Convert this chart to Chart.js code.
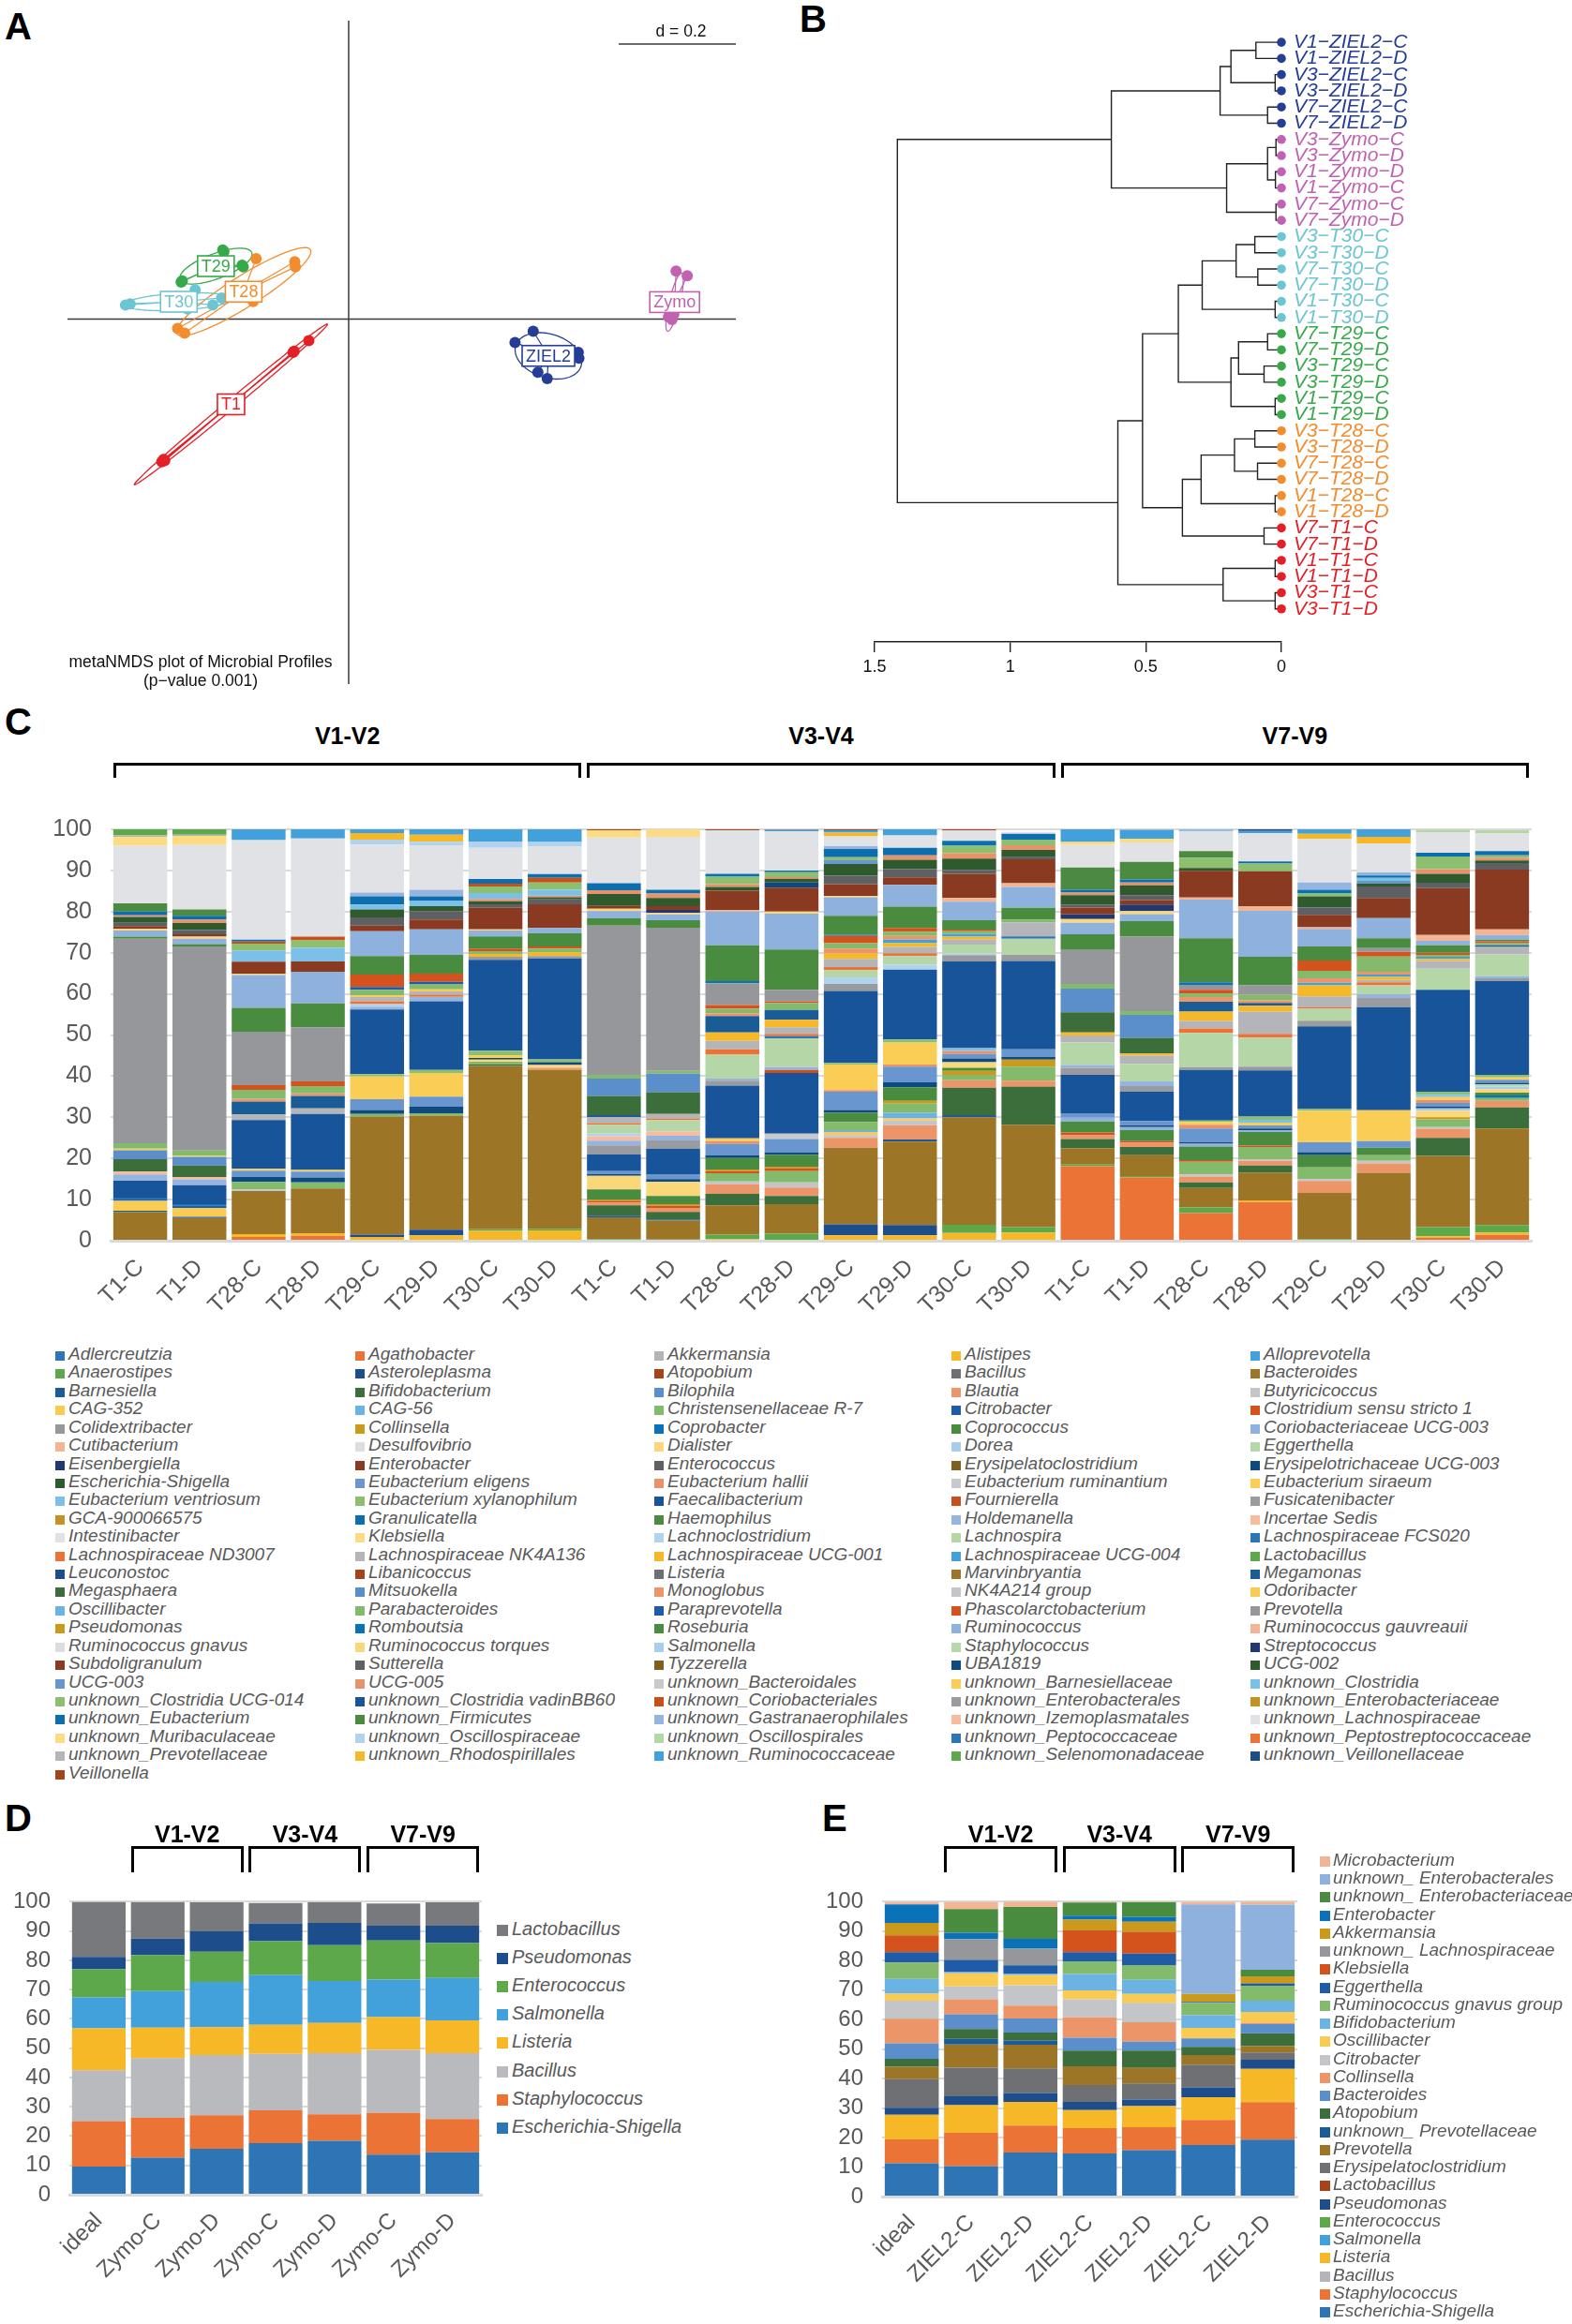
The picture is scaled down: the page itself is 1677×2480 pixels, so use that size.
<!DOCTYPE html>
<html>
<head>
<meta charset="utf-8">
<script src="https://cdn.jsdelivr.net/npm/chart.js@4.4.1/dist/chart.umd.min.js"></script>
<style>
  body { margin: 0; background: #fff; }
  #page { position: relative; width: 1677px; height: 2480px; overflow: hidden; background: #fff;
          font-family: 'Liberation Sans', Arial, sans-serif; }
  canvas { position: absolute; }
</style>
</head>
<body>
<div id="page"></div>
<script>
// ---------- Panel A: metaNMDS points ----------
const nmdsT1 = [{x:-0.314,y:-0.242},{x:-0.319,y:-0.244},{x:-0.316,y:-0.240},{x:-0.095,y:-0.057},{x:-0.093,y:-0.055},{x:-0.068,y:-0.037}];
const nmdsT28 = [{x:-0.158,y:0.103},{x:-0.092,y:0.098},{x:-0.091,y:0.089},{x:-0.163,y:0.030},{x:-0.292,y:-0.016},{x:-0.280,y:-0.024}];
const nmdsT29 = [{x:-0.215,y:0.118},{x:-0.213,y:0.115},{x:-0.180,y:0.089},{x:-0.182,y:0.092},{x:-0.286,y:0.063},{x:-0.284,y:0.065}];
const nmdsT30 = [{x:-0.373,y:0.026},{x:-0.381,y:0.024},{x:-0.275,y:0.017},{x:-0.262,y:0.050},{x:-0.232,y:0.024},{x:-0.217,y:0.036}];
const nmdsZIEL2 = [{x:0.315,y:-0.021},{x:0.284,y:-0.040},{x:0.392,y:-0.057},{x:0.393,y:-0.067},{x:0.323,y:-0.091},{x:0.339,y:-0.102}];
const nmdsZymo = [{x:0.559,y:0.082},{x:0.578,y:0.074},{x:0.549,y:0.006},{x:0.555,y:0.008},{x:0.552,y:-0.001},{x:0.546,y:0.004}];
const nmdsGroups = ['T1','T28','T29','T30','ZIEL2','Zymo'];

// ---------- Panel B: dendrogram ----------
const bLeaves = ['V1−ZIEL2−C','V1−ZIEL2−D','V3−ZIEL2−C','V3−ZIEL2−D','V7−ZIEL2−C','V7−ZIEL2−D',
  'V3−Zymo−C','V3−Zymo−D','V1−Zymo−D','V1−Zymo−C','V7−Zymo−C','V7−Zymo−D',
  'V3−T30−C','V3−T30−D','V7−T30−C','V7−T30−D','V1−T30−C','V1−T30−D',
  'V7−T29−C','V7−T29−D','V3−T29−C','V3−T29−D','V1−T29−C','V1−T29−D',
  'V3−T28−C','V3−T28−D','V7−T28−C','V7−T28−D','V1−T28−C','V1−T28−D',
  'V7−T1−C','V7−T1−D','V1−T1−C','V1−T1−D','V3−T1−C','V3−T1−D'];
// merges like hclust: negative = leaf (1-based), positive = earlier merge; third value = height
const bMerges = [
  [-1,-2,0.094],[-3,-4,0.023],[1,2,0.186],[-5,-6,0.051],[3,4,0.226],
  [-7,-8,0.020],[-9,-10,0.022],[6,7,0.051],[-11,-12,0.020],[8,9,0.202],[5,10,0.627],
  [-13,-14,0.098],[-15,-16,0.087],[12,13,0.167],[-17,-18,0.023],[14,15,0.292],
  [-19,-20,0.051],[-21,-22,0.064],[17,18,0.158],[-23,-24,0.023],[19,20,0.186],[16,21,0.380],
  [-25,-26,0.098],[-27,-28,0.088],[23,24,0.173],[-29,-30,0.023],[25,26,0.296],
  [-31,-32,0.064],[27,28,0.365],[22,29,0.512],
  [-33,-34,0.023],[-35,-36,0.023],[31,32,0.215],[30,33,0.603],[11,34,1.416]
];
const bAxisTicks = [0, 0.5, 1, 1.5];

// ---------- Panel C: genus composition ----------
const cLabels = ['T1-C','T1-D','T28-C','T28-D','T29-C','T29-D','T30-C','T30-D',
                 'T1-C','T1-D','T28-C','T28-D','T29-C','T29-D','T30-C','T30-D',
                 'T1-C','T1-D','T28-C','T28-D','T29-C','T29-D','T30-C','T30-D'];
const cRegions = ['V1-V2','V3-V4','V7-V9'];
const cTaxa = ['Adlercreutzia','Agathobacter','Akkermansia','Alistipes','Alloprevotella',
 'Anaerostipes','Asteroleplasma','Atopobium','Bacillus','Bacteroides',
 'Barnesiella','Bifidobacterium','Bilophila','Blautia','Butyricicoccus',
 'CAG-352','CAG-56','Christensenellaceae R-7','Citrobacter','Clostridium sensu stricto 1',
 'Colidextribacter','Collinsella','Coprobacter','Coprococcus','Coriobacteriaceae UCG-003',
 'Cutibacterium','Desulfovibrio','Dialister','Dorea','Eggerthella',
 'Eisenbergiella','Enterobacter','Enterococcus','Erysipelatoclostridium','Erysipelotrichaceae UCG-003',
 'Escherichia-Shigella','Eubacterium eligens','Eubacterium hallii','Eubacterium ruminantium','Eubacterium siraeum',
 'Eubacterium ventriosum','Eubacterium xylanophilum','Faecalibacterium','Fournierella','Fusicatenibacter',
 'GCA-900066575','Granulicatella','Haemophilus','Holdemanella','Incertae Sedis',
 'Intestinibacter','Klebsiella','Lachnoclostridium','Lachnospira','Lachnospiraceae FCS020',
 'Lachnospiraceae ND3007','Lachnospiraceae NK4A136','Lachnospiraceae UCG-001','Lachnospiraceae UCG-004','Lactobacillus',
 'Leuconostoc','Libanicoccus','Listeria','Marvinbryantia','Megamonas',
 'Megasphaera','Mitsuokella','Monoglobus','NK4A214 group','Odoribacter',
 'Oscillibacter','Parabacteroides','Paraprevotella','Phascolarctobacterium','Prevotella',
 'Pseudomonas','Romboutsia','Roseburia','Ruminococcus','Ruminococcus gauvreauii',
 'Ruminococcus gnavus','Ruminococcus torques','Salmonella','Staphylococcus','Streptococcus',
 'Subdoligranulum','Sutterella','Tyzzerella','UBA1819','UCG-002',
 'UCG-003','UCG-005','unknown_Bacteroidales','unknown_Barnesiellaceae','unknown_Clostridia',
 'unknown_Clostridia UCG-014','unknown_Clostridia vadinBB60','unknown_Coriobacteriales','unknown_Enterobacterales','unknown_Enterobacteriaceae',
 'unknown_Eubacterium','unknown_Firmicutes','unknown_Gastranaerophilales','unknown_Izemoplasmatales','unknown_Lachnospiraceae',
 'unknown_Muribaculaceae','unknown_Oscillospiraceae','unknown_Oscillospirales','unknown_Peptococcaceae','unknown_Peptostreptococcaceae',
 'unknown_Prevotellaceae','unknown_Rhodospirillales','unknown_Ruminococcaceae','unknown_Selenomonadaceae','unknown_Veillonellaceae',
 'Veillonella'];

// one list per bar: [genus, % abundance]
const barV12_T1C = [['Bacteroides',7.0],['Barnesiella',0.3],['CAG-352',2.4],['Citrobacter',0.5],['Coprobacter',0.3],['Faecalibacterium',4.1],['Holdemanella',1.5],['Incertae Sedis',0.7],['Megasphaera',3.0],['Mitsuokella',2.2],['Odoribacter',0.4],['Parabacteroides',1.3],['Prevotella',49.7],['Roseburia',0.5],['Ruminococcus',1.5],['Ruminococcus torques',0.4],['Subdoligranulum',0.7],['Sutterella',0.8],['UCG-002',1.4],['UCG-005',0.4],['unknown_Eubacterium',0.9],['unknown_Firmicutes',2.0],['unknown_Lachnospiraceae',14.0],['unknown_Muribaculaceae',2.2],['unknown_Prevotellaceae',0.3],['unknown_Selenomonadaceae',1.5]];
const barV12_T1D = [['Bacteroides',5.5],['Barnesiella',0.3],['CAG-352',2.2],['Citrobacter',0.5],['Coprobacter',0.4],['Faecalibacterium',4.6],['Holdemanella',1.4],['Incertae Sedis',0.6],['Megasphaera',2.8],['Mitsuokella',2.1],['Odoribacter',0.3],['Parabacteroides',1.2],['Prevotella',49.6],['Roseburia',0.6],['Ruminococcus',1.3],['Ruminococcus torques',0.5],['Subdoligranulum',0.6],['Sutterella',1.0],['UCG-002',1.7],['UCG-005',0.9],['unknown_Eubacterium',0.9],['unknown_Firmicutes',1.5],['unknown_Lachnospiraceae',15.7],['unknown_Muribaculaceae',2.2],['unknown_Prevotellaceae',0.3],['unknown_Selenomonadaceae',1.3]];
const barV12_T28C = [['Agathobacter',0.9],['Alistipes',0.7],['Bacteroides',10.5],['Butyricicoccus',0.4],['Christensenellaceae R-7',1.8],['Erysipelotrichaceae UCG-003',1.2],['Eubacterium eligens',1.5],['Eubacterium siraeum',0.5],['Faecalibacterium',11.8],['Lachnospiraceae NK4A136',1.4],['Megamonas',3.1],['Monoglobus',0.7],['Parabacteroides',2.2],['Phascolarctobacterium',1.1],['Prevotella',13.0],['Roseburia',5.8],['Ruminococcus',8.0],['Ruminococcus torques',0.3],['Subdoligranulum',2.9],['unknown_Clostridia',2.7],['unknown_Clostridia UCG-014',1.7],['unknown_Coriobacteriales',0.5],['unknown_Eubacterium',0.5],['unknown_Lachnospiraceae',24.2],['unknown_Ruminococcaceae',2.6]];
const barV12_T28D = [['Agathobacter',1.2],['Alistipes',0.6],['Bacteroides',10.9],['Christensenellaceae R-7',1.5],['Erysipelotrichaceae UCG-003',1.2],['Eubacterium eligens',1.4],['Eubacterium siraeum',0.4],['Faecalibacterium',13.6],['Lachnospiraceae NK4A136',1.4],['Megamonas',3.0],['Monoglobus',0.6],['Parabacteroides',1.8],['Phascolarctobacterium',1.1],['Prevotella',13.2],['Roseburia',5.8],['Ruminococcus',7.7],['Subdoligranulum',2.5],['unknown_Clostridia',3.3],['unknown_Clostridia UCG-014',1.8],['unknown_Coriobacteriales',0.9],['unknown_Lachnospiraceae',23.9],['unknown_Ruminococcaceae',2.2]];
const barV12_T29C = [['Alistipes',0.9],['Asteroleplasma',0.6],['Bacteroides',28.7],['Christensenellaceae R-7',0.6],['Erysipelotrichaceae UCG-003',1.0],['Eubacterium eligens',2.6],['Eubacterium siraeum',5.5],['Eubacterium xylanophilum',0.6],['Faecalibacterium',15.7],['Holdemanella',0.7],['Lachnoclostridium',0.6],['Lachnospiraceae ND3007',0.7],['Lachnospiraceae NK4A136',1.0],['Odoribacter',0.4],['Parabacteroides',1.4],['Paraprevotella',0.7],['Phascolarctobacterium',3.0],['Roseburia',4.5],['Ruminococcus',6.0],['Subdoligranulum',1.4],['Sutterella',2.0],['UCG-002',1.9],['unknown_Clostridia',1.2],['unknown_Eubacterium',2.0],['unknown_Gastranaerophilales',0.9],['unknown_Lachnospiraceae',11.7],['unknown_Oscillospiraceae',1.2],['unknown_Rhodospirillales',1.6],['unknown_Ruminococcaceae',0.9]];
const barV12_T29D = [['Alistipes',1.3],['Asteroleplasma',1.4],['Bacteroides',27.7],['Christensenellaceae R-7',0.6],['Erysipelotrichaceae UCG-003',1.6],['Eubacterium eligens',2.4],['Eubacterium siraeum',5.8],['Eubacterium xylanophilum',0.7],['Faecalibacterium',16.7],['Holdemanella',1.1],['Lachnospiraceae ND3007',0.5],['Lachnospiraceae NK4A136',0.8],['Odoribacter',0.5],['Parabacteroides',1.2],['Paraprevotella',0.6],['Phascolarctobacterium',2.0],['Roseburia',4.6],['Ruminococcus',6.2],['Subdoligranulum',2.4],['Sutterella',2.0],['UCG-002',1.2],['unknown_Clostridia',1.3],['unknown_Eubacterium',1.1],['unknown_Gastranaerophilales',1.6],['unknown_Lachnospiraceae',10.8],['unknown_Oscillospiraceae',0.9],['unknown_Rhodospirillales',1.7],['unknown_Ruminococcaceae',1.3]];
const barV12_T30C = [['Alistipes',2.4],['Anaerostipes',0.4],['Bacteroides',39.7],['Bifidobacterium',0.4],['Christensenellaceae R-7',0.6],['Dialister',0.5],['Erysipelotrichaceae UCG-003',0.4],['Eubacterium siraeum',0.7],['Eubacterium xylanophilum',1.1],['Faecalibacterium',22.1],['Fusicatenibacter',0.7],['Lachnospiraceae UCG-001',0.7],['Parabacteroides',0.7],['Phascolarctobacterium',0.6],['Roseburia',3.0],['Ruminococcus',1.4],['Ruminococcus torques',0.3],['Subdoligranulum',5.2],['Sutterella',0.9],['UCG-002',0.7],['UCG-005',0.6],['unknown_Clostridia',1.4],['unknown_Clostridia UCG-014',1.6],['unknown_Coriobacteriales',0.7],['unknown_Eubacterium',1.1],['unknown_Lachnospiraceae',7.6],['unknown_Oscillospiraceae',1.4],['unknown_Ruminococcaceae',3.1]];
const barV12_T30D = [['Alistipes',2.5],['Anaerostipes',0.4],['Bacteroides',38.6],['Blautia',0.5],['Dialister',0.7],['Erysipelotrichaceae UCG-003',0.7],['Eubacterium xylanophilum',0.7],['Faecalibacterium',24.5],['Fusicatenibacter',0.6],['Lachnospiraceae UCG-001',0.9],['Parabacteroides',0.9],['Phascolarctobacterium',0.5],['Roseburia',3.3],['Ruminococcus',1.2],['Subdoligranulum',5.8],['Sutterella',1.2],['UCG-002',0.5],['UCG-005',0.4],['unknown_Clostridia',1.4],['unknown_Clostridia UCG-014',1.8],['unknown_Coriobacteriales',1.1],['unknown_Eubacterium',0.9],['unknown_Lachnospiraceae',6.7],['unknown_Oscillospiraceae',1.1],['unknown_Ruminococcaceae',3.1]];
const barV34_T1C = [['Anaerostipes',0.4],['Bacteroides',5.3],['Barnesiella',0.4],['Bifidobacterium',2.5],['Blautia',0.7],['Clostridium sensu stricto 1',0.4],['Collinsella',0.3],['Coprococcus',2.5],['Dialister',3.3],['Erysipelotrichaceae UCG-003',0.4],['Eubacterium eligens',0.7],['Faecalibacterium',4.1],['Fusicatenibacter',2.2],['Holdemanella',1.1],['Incertae Sedis',1.1],['Lachnoclostridium',0.6],['Lachnospira',2.2],['Lachnospiraceae ND3007',0.4],['Lachnospiraceae NK4A136',1.4],['Megamonas',0.5],['Megasphaera',4.7],['Mitsuokella',4.2],['Parabacteroides',0.9],['Prevotella',36.3],['Roseburia',1.8],['Ruminococcus',1.7],['Ruminococcus torques',0.6],['Subdoligranulum',0.7],['UCG-002',2.9],['UCG-005',0.9],['unknown_Eubacterium',1.7],['unknown_Lachnospiraceae',11.1],['unknown_Muribaculaceae',1.8],['Veillonella',0.2]];
const barV34_T1D = [['Anaerostipes',0.3],['Bacteroides',4.6],['Barnesiella',0.3],['Bifidobacterium',1.8],['Blautia',1.0],['Clostridium sensu stricto 1',0.5],['Collinsella',0.4],['Coprococcus',2.0],['Dialister',3.4],['Erysipelotrichaceae UCG-003',0.7],['Eubacterium eligens',1.2],['Faecalibacterium',6.2],['Fusicatenibacter',2.0],['Holdemanella',1.1],['Incertae Sedis',1.1],['Lachnospira',2.7],['Lachnospiraceae ND3007',0.4],['Lachnospiraceae NK4A136',1.1],['Megasphaera',5.3],['Mitsuokella',4.5],['Parabacteroides',0.7],['Prevotella',34.8],['Roseburia',1.8],['Ruminococcus',1.4],['Ruminococcus torques',0.4],['Streptococcus',0.7],['Subdoligranulum',0.9],['UCG-002',2.0],['UCG-005',1.1],['unknown_Eubacterium',0.9],['unknown_Lachnospiraceae',12.9],['unknown_Muribaculaceae',1.8]];
const barV34_T28C = [['Alistipes',0.4],['Anaerostipes',1.1],['Bacteroides',7.1],['Bifidobacterium',2.8],['Blautia',2.3],['Butyricicoccus',0.7],['Christensenellaceae R-7',2.0],['Clostridium sensu stricto 1',0.5],['Collinsella',0.4],['Coprococcus',2.8],['Erysipelotrichaceae UCG-003',0.7],['Eubacterium eligens',2.7],['Eubacterium hallii',0.7],['Eubacterium siraeum',0.7],['Faecalibacterium',12.8],['Fusicatenibacter',1.2],['Holdemanella',0.5],['Lachnospira',5.8],['Lachnospiraceae ND3007',1.3],['Lachnospiraceae NK4A136',2.1],['Lachnospiraceae UCG-001',2.0],['Megamonas',4.0],['Monoglobus',0.7],['Parabacteroides',1.1],['Phascolarctobacterium',0.9],['Prevotella',5.3],['Romboutsia',0.5],['Roseburia',8.7],['Ruminococcus',8.2],['Ruminococcus gauvreauii',0.4],['Subdoligranulum',4.7],['UCG-002',0.9],['UCG-005',0.7],['unknown_Clostridia UCG-014',1.8],['unknown_Eubacterium',0.7],['unknown_Lachnospiraceae',10.6],['Veillonella',0.2]];
const barV34_T28D = [['Anaerostipes',1.7],['Bacteroides',7.2],['Bifidobacterium',2.0],['Blautia',2.0],['Butyricicoccus',1.3],['Christensenellaceae R-7',2.7],['Clostridium sensu stricto 1',0.7],['Collinsella',0.4],['Coprococcus',2.9],['Erysipelotrichaceae UCG-003',0.5],['Eubacterium eligens',3.3],['Eubacterium ruminantium',1.3],['Faecalibacterium',14.8],['Fournierella',0.7],['Holdemanella',0.7],['Lachnospira',7.0],['Lachnospiraceae FCS020',0.5],['Lachnospiraceae ND3007',0.6],['Lachnospiraceae NK4A136',1.6],['Lachnospiraceae UCG-001',1.8],['Megamonas',2.4],['Parabacteroides',1.7],['Phascolarctobacterium',0.4],['Prevotella',2.8],['Roseburia',9.8],['Ruminococcus',8.7],['Ruminococcus torques',0.5],['Subdoligranulum',5.8],['UBA1819',1.3],['UCG-002',0.9],['UCG-005',0.4],['unknown_Clostridia UCG-014',1.2],['unknown_Eubacterium',0.4],['unknown_Lachnospiraceae',9.5],['unknown_Ruminococcaceae',0.4],['Veillonella',0.2]];
const barV34_T29C = [['Alistipes',1.3],['Asteroleplasma',2.7],['Bacteroides',18.6],['Blautia',2.4],['Butyricicoccus',0.7],['CAG-352',0.7],['CAG-56',0.5],['Christensenellaceae R-7',2.0],['Coprococcus',2.2],['Erysipelotrichaceae UCG-003',0.7],['Eubacterium eligens',4.4],['Eubacterium hallii',0.4],['Eubacterium siraeum',6.2],['Eubacterium xylanophilum',0.4],['Faecalibacterium',17.5],['Fusicatenibacter',1.7],['Lachnoclostridium',1.6],['Lachnospira',1.8],['Lachnospiraceae ND3007',0.7],['Lachnospiraceae NK4A136',2.0],['Lachnospiraceae UCG-001',1.3],['Monoglobus',1.2],['Parabacteroides',1.3],['Phascolarctobacterium',1.8],['Romboutsia',0.3],['Roseburia',4.6],['Ruminococcus',4.5],['Ruminococcus torques',0.3],['Subdoligranulum',2.9],['Sutterella',2.0],['UCG-002',2.9],['UCG-003',0.9],['unknown_Clostridia UCG-014',0.7],['unknown_Eubacterium',2.0],['unknown_Gastranaerophilales',0.7],['unknown_Lachnospiraceae',2.4],['unknown_Rhodospirillales',0.9],['unknown_Ruminococcaceae',0.6],['Veillonella',0.2]];
const barV34_T29D = [['Alistipes',1.3],['Asteroleplasma',2.5],['Bacteroides',20.3],['Barnesiella',0.5],['Blautia',3.5],['Butyricicoccus',1.1],['CAG-352',0.5],['CAG-56',1.4],['Christensenellaceae R-7',2.2],['Collinsella',0.7],['Coprococcus',3.3],['Erysipelotrichaceae UCG-003',1.2],['Eubacterium eligens',3.8],['Eubacterium hallii',0.5],['Eubacterium siraeum',5.4],['Eubacterium xylanophilum',0.7],['Faecalibacterium',17.0],['Lachnoclostridium',1.2],['Lachnospira',2.1],['Lachnospiraceae ND3007',0.7],['Lachnospiraceae NK4A136',1.5],['Lachnospiraceae UCG-001',0.9],['Lachnospiraceae UCG-004',0.9],['Monoglobus',0.9],['Parabacteroides',1.0],['Phascolarctobacterium',0.9],['Roseburia',5.2],['Ruminococcus',5.3],['Subdoligranulum',1.8],['Sutterella',2.0],['UCG-002',2.3],['UCG-005',1.1],['unknown_Eubacterium',1.8],['unknown_Lachnospiraceae',3.0],['unknown_Ruminococcaceae',1.5]];
const barV34_T30C = [['Alistipes',1.9],['Anaerostipes',2.0],['Bacteroides',26.1],['Barnesiella',0.5],['Bifidobacterium',6.7],['Blautia',1.8],['Christensenellaceae R-7',1.3],['Collinsella',1.0],['Coprococcus',0.7],['Dialister',1.4],['Erysipelotrichaceae UCG-003',0.9],['Eubacterium eligens',1.1],['Eubacterium hallii',0.7],['Eubacterium ventriosum',0.7],['Faecalibacterium',21.1],['Fusicatenibacter',1.5],['Lachnoclostridium',0.4],['Lachnospira',2.2],['Lachnospiraceae NK4A136',1.2],['Lachnospiraceae UCG-001',0.7],['Lachnospiraceae UCG-004',0.7],['Parabacteroides',0.6],['Phascolarctobacterium',0.4],['Roseburia',2.3],['Ruminococcus',4.5],['Ruminococcus gauvreauii',0.9],['Subdoligranulum',5.9],['Sutterella',0.9],['UCG-002',2.8],['UCG-005',1.3],['unknown_Clostridia UCG-014',1.8],['unknown_Eubacterium',1.2],['unknown_Lachnospiraceae',2.5],['Veillonella',0.3]];
const barV34_T30D = [['Alistipes',2.0],['Anaerostipes',1.3],['Bacteroides',24.9],['Bifidobacterium',9.3],['Blautia',1.4],['Christensenellaceae R-7',3.4],['Collinsella',1.7],['Erysipelotrichaceae UCG-003',0.7],['Eubacterium eligens',1.8],['Faecalibacterium',21.5],['Fusicatenibacter',1.5],['Lachnospira',3.9],['Lachnospiraceae FCS020',0.6],['Lachnospiraceae NK4A136',3.4],['Parabacteroides',0.7],['Roseburia',2.8],['Ruminococcus',5.1],['Ruminococcus gauvreauii',0.9],['Subdoligranulum',5.8],['Sutterella',0.5],['UCG-002',1.8],['UCG-005',1.1],['unknown_Clostridia UCG-014',1.4],['unknown_Eubacterium',1.4],['unknown_Lachnospiraceae',0.5]];
const barV79_T1C = [['Agathobacter',18.1],['Anaerostipes',0.4],['Bacteroides',4.0],['Bifidobacterium',2.2],['Blautia',0.9],['Clostridium sensu stricto 1',0.7],['Coprococcus',2.7],['Coriobacteriaceae UCG-003',0.9],['Eubacterium eligens',1.1],['Faecalibacterium',9.3],['Fusicatenibacter',1.7],['Holdemanella',0.7],['Lachnospira',5.5],['Lachnospiraceae NK4A136',1.7],['Lachnospiraceae UCG-001',0.7],['Megasphaera',4.9],['Mitsuokella',5.8],['Parabacteroides',1.1],['Prevotella',8.3],['Roseburia',3.8],['Ruminococcus',2.8],['Ruminococcus torques',0.9],['Streptococcus',1.2],['Subdoligranulum',1.6],['Sutterella',0.7],['UCG-002',2.3],['UCG-005',0.6],['unknown_Eubacterium',0.7],['unknown_Firmicutes',5.4],['unknown_Lachnospiraceae',5.5],['unknown_Muribaculaceae',0.7],['unknown_Ruminococcaceae',3.1]];
const barV79_T1D = [['Agathobacter',15.4],['Anaerostipes',0.3],['Bacteroides',5.1],['Bifidobacterium',2.0],['Blautia',1.0],['Clostridium sensu stricto 1',0.4],['Coprococcus',2.7],['Coriobacteriaceae UCG-003',0.7],['Erysipelotrichaceae UCG-003',0.5],['Eubacterium eligens',1.0],['Faecalibacterium',7.1],['Fusicatenibacter',1.4],['Holdemanella',1.1],['Lachnospira',4.3],['Lachnospiraceae NK4A136',2.0],['Lachnospiraceae UCG-001',0.5],['Megasphaera',3.8],['Mitsuokella',5.6],['Parabacteroides',0.9],['Prevotella',18.1],['Roseburia',3.8],['Ruminococcus',1.7],['Ruminococcus torques',0.7],['Streptococcus',1.6],['Subdoligranulum',1.1],['Sutterella',1.2],['UCG-002',2.4],['UCG-005',0.7],['unknown_Eubacterium',0.7],['unknown_Firmicutes',4.3],['unknown_Lachnospiraceae',4.7],['unknown_Muribaculaceae',0.9],['unknown_Ruminococcaceae',2.2]];
const barV79_T28C = [['Agathobacter',6.7],['Anaerostipes',1.4],['Bacteroides',4.7],['Bifidobacterium',1.4],['Blautia',1.4],['Butyricicoccus',0.5],['Christensenellaceae R-7',3.1],['Clostridium sensu stricto 1',0.4],['Coprococcus',3.3],['Coriobacteriaceae UCG-003',0.7],['Erysipelotrichaceae UCG-003',0.4],['Eubacterium eligens',3.3],['Eubacterium hallii',0.9],['Eubacterium siraeum',0.7],['Eubacterium xylanophilum',0.3],['Faecalibacterium',12.3],['Fusicatenibacter',0.7],['Lachnospira',8.3],['Lachnospiraceae ND3007',1.1],['Lachnospiraceae NK4A136',1.8],['Lachnospiraceae UCG-001',2.3],['Megamonas',2.4],['Monoglobus',1.1],['Parabacteroides',0.9],['Phascolarctobacterium',0.9],['Prevotella',1.2],['Romboutsia',0.6],['Roseburia',10.7],['Ruminococcus',9.4],['Ruminococcus gauvreauii',0.5],['Subdoligranulum',6.5],['UCG-002',0.7],['unknown_Clostridia UCG-014',2.5],['unknown_Firmicutes',1.6],['unknown_Lachnospiraceae',4.9],['unknown_Ruminococcaceae',0.3]];
const barV79_T28D = [['Agathobacter',9.4],['Alistipes',0.4],['Bacteroides',6.8],['Bifidobacterium',1.7],['Blautia',1.1],['Butyricicoccus',0.4],['Christensenellaceae R-7',3.0],['Clostridium sensu stricto 1',0.3],['Coprococcus',3.3],['Coriobacteriaceae UCG-003',0.4],['Erysipelotrichaceae UCG-003',0.5],['Eubacterium eligens',0.7],['Eubacterium siraeum',0.7],['Eubacterium ventriosum',0.7],['Eubacterium xylanophilum',0.8],['Faecalibacterium',11.2],['Fusicatenibacter',0.9],['Lachnospira',7.1],['Lachnospiraceae ND3007',0.9],['Lachnospiraceae NK4A136',5.4],['Lachnospiraceae UCG-001',1.4],['Megamonas',0.7],['Monoglobus',0.6],['Parabacteroides',1.4],['Prevotella',2.3],['Roseburia',6.9],['Ruminococcus',11.2],['Ruminococcus gauvreauii',1.1],['Subdoligranulum',8.5],['unknown_Clostridia UCG-014',1.9],['unknown_Eubacterium',0.5],['unknown_Lachnospiraceae',6.9],['unknown_Ruminococcaceae',0.5],['unknown_Veillonellaceae',0.4]];
const barV79_T29C = [['Anaerostipes',0.4],['Bacteroides',11.2],['Blautia',2.9],['Butyricicoccus',0.5],['Christensenellaceae R-7',2.8],['Coprococcus',3.0],['Erysipelotrichaceae UCG-003',0.7],['Eubacterium eligens',2.4],['Eubacterium siraeum',7.7],['Eubacterium xylanophilum',0.4],['Faecalibacterium',20.1],['Fusicatenibacter',1.4],['Lachnospira',2.9],['Lachnospiraceae ND3007',0.3],['Lachnospiraceae NK4A136',2.7],['Lachnospiraceae UCG-001',2.7],['Lachnospiraceae UCG-004',0.6],['Monoglobus',1.1],['Parabacteroides',1.8],['Phascolarctobacterium',2.5],['Roseburia',3.4],['Ruminococcus',4.3],['Ruminococcus gauvreauii',0.4],['Subdoligranulum',3.0],['Sutterella',1.8],['UCG-002',2.7],['unknown_Clostridia UCG-014',0.7],['unknown_Eubacterium',0.9],['unknown_Gastranaerophilales',1.8],['unknown_Lachnospiraceae',10.6],['unknown_Rhodospirillales',1.2],['unknown_Ruminococcaceae',1.1]];
const barV79_T29D = [['Bacteroides',16.5],['Blautia',2.3],['Butyricicoccus',0.6],['Christensenellaceae R-7',1.4],['Coprococcus',1.8],['Eubacterium eligens',1.6],['Eubacterium siraeum',7.5],['Faecalibacterium',25.1],['Fusicatenibacter',2.2],['Holdemanella',0.9],['Lachnospira',2.2],['Lachnospiraceae ND3007',0.7],['Lachnospiraceae NK4A136',0.6],['Lachnospiraceae UCG-001',0.7],['Lachnospiraceae UCG-004',0.6],['Monoglobus',0.7],['Parabacteroides',3.7],['Phascolarctobacterium',1.1],['Prevotella',0.9],['Roseburia',2.4],['Ruminococcus',4.9],['Subdoligranulum',4.9],['Sutterella',2.8],['UCG-002',0.7],['UCG-003',0.7],['unknown_Clostridia',0.7],['unknown_Eubacterium',0.6],['unknown_Gastranaerophilales',0.7],['unknown_Lachnospiraceae',7.0],['unknown_Rhodospirillales',1.7],['unknown_Ruminococcaceae',1.8]];
const barV79_T30C = [['Agathobacter',0.7],['Alistipes',0.4],['Anaerostipes',2.2],['Bacteroides',17.3],['Bifidobacterium',4.4],['Blautia',2.2],['Butyricicoccus',0.4],['Christensenellaceae R-7',1.9],['Collinsella',0.5],['Dialister',1.6],['Dorea',0.6],['Erysipelotrichaceae UCG-003',0.4],['Eubacterium eligens',0.9],['Eubacterium hallii',0.7],['Eubacterium siraeum',0.7],['Eubacterium ventriosum',0.6],['Eubacterium xylanophilum',0.7],['Faecalibacterium',24.8],['Lachnospira',5.1],['Lachnospiraceae NK4A136',1.9],['Lachnospiraceae UCG-001',0.5],['Lachnospiraceae UCG-004',0.5],['Parabacteroides',0.5],['Phascolarctobacterium',0.5],['Roseburia',1.8],['Ruminococcus',1.1],['Ruminococcus gauvreauii',1.4],['Subdoligranulum',11.4],['Sutterella',1.3],['UCG-002',2.2],['UCG-005',1.1],['unknown_Clostridia UCG-014',3.1],['unknown_Eubacterium',0.9],['unknown_Lachnospiraceae',4.9],['unknown_Oscillospirales',0.7]];
const barV79_T30D = [['Agathobacter',1.4],['Alistipes',0.6],['Anaerostipes',1.8],['Bacteroides',23.5],['Bifidobacterium',5.1],['Blautia',1.6],['Christensenellaceae R-7',0.7],['Coprobacter',0.6],['Coprococcus',0.7],['Dialister',0.8],['Dorea',0.7],['Eggerthella',0.5],['Erysipelotrichaceae UCG-003',0.4],['Eubacterium eligens',0.7],['Eubacterium siraeum',0.6],['Eubacterium xylanophilum',0.6],['Faecalibacterium',22.8],['Fusicatenibacter',0.7],['Holdemanella',0.5],['Lachnospira',5.3],['Lachnospiraceae NK4A136',1.8],['Megamonas',0.4],['Parabacteroides',0.5],['Phascolarctobacterium',0.5],['Roseburia',0.4],['Ruminococcus',1.1],['Ruminococcus gauvreauii',1.4],['Subdoligranulum',14.5],['Sutterella',1.6],['UCG-002',0.6],['UCG-005',0.7],['unknown_Clostridia UCG-014',0.6],['unknown_Eubacterium',1.0],['unknown_Lachnospiraceae',4.3],['unknown_Oscillospirales',0.8]];
const cBars = [barV12_T1C, barV12_T1D, barV12_T28C, barV12_T28D, barV12_T29C, barV12_T29D, barV12_T30C, barV12_T30D,
               barV34_T1C, barV34_T1D, barV34_T28C, barV34_T28D, barV34_T29C, barV34_T29D, barV34_T30C, barV34_T30D,
               barV79_T1C, barV79_T1D, barV79_T28C, barV79_T28D, barV79_T29C, barV79_T29D, barV79_T30C, barV79_T30D];

// ---------- Panel D: Zymo mock community ----------
const dLabels = ['ideal','Zymo-C','Zymo-D','Zymo-C','Zymo-D','Zymo-C','Zymo-D'];
const dTaxa = ['Escherichia-Shigella','Staphylococcus','Bacillus','Listeria','Salmonella','Enterococcus','Pseudomonas','Lactobacillus'];
const dEscherichia = [9.6, 12.6, 15.7, 17.6, 18.4, 13.7, 14.5];
const dStaphylococcus = [15.5, 13.7, 11.4, 11.2, 9.0, 14.2, 11.3];
const dBacillus = [17.4, 20.3, 20.6, 19.3, 20.9, 21.5, 22.5];
const dListeria = [14.3, 10.4, 9.5, 9.9, 10.3, 11.2, 11.2];
const dSalmonella = [10.5, 12.5, 15.4, 16.9, 14.3, 12.8, 14.5];
const dEnterococcus = [9.7, 12.3, 10.3, 11.6, 12.3, 13.4, 11.9];
const dPseudomonas = [4.2, 5.6, 7.0, 6.1, 7.6, 5.0, 5.9];
const dLactobacillus = [18.8, 12.5, 9.9, 7.0, 7.1, 7.6, 8.0];
const dSeries = [dEscherichia, dStaphylococcus, dBacillus, dListeria, dSalmonella, dEnterococcus, dPseudomonas, dLactobacillus];

// ---------- Panel E: ZIEL2 mock community ----------
const eLabels = ['ideal','ZIEL2-C','ZIEL2-D','ZIEL2-C','ZIEL2-D','ZIEL2-C','ZIEL2-D'];
const eTaxa = ['Escherichia-Shigella','Staphylococcus','Bacillus','Listeria','Salmonella','Enterococcus','Pseudomonas','Lactobacillus',
  'Erysipelatoclostridium','Prevotella','unknown_ Prevotellaceae','Atopobium','Bacteroides','Collinsella','Citrobacter','Oscillibacter',
  'Bifidobacterium','Ruminococcus gnavus group','Eggerthella','Klebsiella','unknown_ Lachnospiraceae','Akkermansia','Enterobacter',
  'unknown_ Enterobacteriaceae','unknown_ Enterobacterales','Microbacterium'];
const eEscherichia = [11.3, 10.3, 14.9, 14.6, 15.7, 17.5, 19.3];
const eStaphylococcus = [8.1, 11.3, 9.2, 8.6, 7.8, 8.5, 12.7];
const eBacillus = [0, 0, 0, 0, 0, 0, 0];
const eListeria = [8.3, 9.4, 8.0, 6.1, 7.2, 7.7, 11.3];
const eSalmonella = [0, 0, 0, 0, 0, 0, 0];
const eEnterococcus = [0, 0, 0, 0, 0, 0, 0];
const ePseudomonas = [2.4, 3.0, 3.0, 2.8, 2.2, 3.3, 3.1];
const eLactobacillus = [0, 0, 0, 0, 0, 0, 0];
const eErysipelatoclostridium = [9.7, 9.7, 8.4, 5.7, 5.5, 7.7, 2.5];
const ePrevotella = [4.2, 7.9, 8.0, 6.4, 5.2, 3.3, 2.1];
const eUnkPrevotellaceae = [0, 1.9, 1.4, 0, 0, 0, 0];
const eAtopobium = [2.7, 3.3, 2.7, 5.3, 5.9, 2.8, 4.4];
const eBacteroides = [5.3, 5.0, 4.8, 4.4, 3.0, 2.8, 3.1];
const eCollinsella = [8.3, 5.1, 4.4, 6.9, 6.6, 0, 0.5];
const eCitrobacter = [6.1, 4.4, 6.9, 6.1, 6.6, 0, 0];
const eOscillibacter = [2.4, 4.4, 3.4, 3.0, 3.0, 3.6, 3.6];
const eBifidobacterium = [5.0, 0.4, 0.4, 5.6, 4.8, 4.3, 3.8];
const eRgnavus = [5.6, 0, 0, 4.3, 5.0, 4.2, 5.1];
const eEggerthella = [3.5, 4.2, 2.9, 3.1, 3.9, 0.3, 0.8];
const eKlebsiella = [5.7, 0, 0, 7.4, 7.4, 0, 0];
const eUnkLachnospiraceae = [0, 7.0, 5.7, 0, 0, 0, 0];
const eAkkermansia = [4.2, 0, 0, 3.6, 3.4, 2.7, 2.4];
const eEnterobacter = [6.3, 2.2, 3.3, 1.4, 1.7, 0, 0];
const eUnkEnterobacteriaceae = [0, 8.0, 10.8, 4.4, 5.0, 0, 2.2];
const eUnkEnterobacterales = [0, 0, 0, 0, 0, 30.4, 22.1];
const eMicrobacterium = [0.9, 2.5, 2.1, 0.4, 0.4, 0.9, 1.1];
const eSeries = [eEscherichia, eStaphylococcus, eBacillus, eListeria, eSalmonella, eEnterococcus, ePseudomonas, eLactobacillus,
  eErysipelatoclostridium, ePrevotella, eUnkPrevotellaceae, eAtopobium, eBacteroides, eCollinsella, eCitrobacter, eOscillibacter,
  eBifidobacterium, eRgnavus, eEggerthella, eKlebsiella, eUnkLachnospiraceae, eAkkermansia, eEnterobacter,
  eUnkEnterobacteriaceae, eUnkEnterobacterales, eMicrobacterium];

// ---------- styles ----------
// Excel-like series colour cycle (54 entries)
const palette = [
  '#2E75B6','#EB7336','#B4B5B8','#F6B826','#42A0DA','#5DA84A',
  '#1E4D8C','#A5431A','#6E7073','#9C7626','#1A5C96','#3B6E3B',
  '#5A8FCB','#EC9569','#C4C5C8','#F9CB53','#6BB3E3','#84BA6B',
  '#1F5BA6','#D4531C','#96979A','#CC9A1A','#0A72B8','#4A8C3F',
  '#8EB1DE','#F3B494','#DCDDE1','#FAD87A','#A9CDEC','#B6D7A8',
  '#22386E','#8B3A22','#5E6063','#7D5F1E','#0E4A7E','#2E5A2E',
  '#6A96D0','#E8926A','#C8C9CC','#FACD55','#7CC0EA','#8CC070',
  '#17549A','#C8501A','#999B9E','#C29324','#0B6FAF','#4B8A40',
  '#95B4DF','#F5BCA0','#E1E2E6','#FCDB83','#B2D3EE','#B5D6A7'
];
const dColors = ['#2E75B6','#EB7336','#B9BABD','#F6B826','#42A0DA','#5DA84A','#1E4D8C','#77797C'];
const groupColors = { T1:'#E41F26', T28:'#F28C2E', T29:'#36A94A', T30:'#6CC6D1', ZIEL2:'#243E97', Zymo:'#C062B1' };
const FONT = "'Liberation Sans', Arial, sans-serif";
const TICK_GREY = '#595959';

Chart.defaults.font.family = FONT;
Chart.defaults.animation = false;
Chart.defaults.plugins.legend.display = false;
Chart.defaults.plugins.tooltip.enabled = false;

const page = document.getElementById('page');
function addEl(css, text) {
  const e = document.createElement('div');
  e.style.cssText = 'position:absolute;' + css;
  if (text != null) e.textContent = text;
  page.appendChild(e);
  return e;
}
function makeCanvas(left, top, w, h) {
  const c = document.createElement('canvas');
  c.width = w; c.height = h;
  c.style.cssText = `left:${left}px;top:${top}px;width:${w}px;height:${h}px`;
  page.appendChild(c);
  return c;
}
function panelLetter(ch, left, top) {
  addEl(`left:${left}px;top:${top}px;font:bold 40px ${FONT};line-height:40px;color:#000`, ch);
}

// =============== Panel A ===============
function covEllipse(pts) {
  const n = pts.length;
  const mx = pts.reduce((s, p) => s + p.x, 0) / n;
  const my = pts.reduce((s, p) => s + p.y, 0) / n;
  let a = 0, b = 0, d = 0;
  pts.forEach(p => { a += (p.x - mx) ** 2; b += (p.x - mx) * (p.y - my); d += (p.y - my) ** 2; });
  a /= (n - 1); b /= (n - 1); d /= (n - 1);
  const tr = (a + d) / 2, disc = Math.sqrt(((a - d) / 2) ** 2 + b * b);
  const l1 = tr + disc, l2 = Math.max(tr - disc, 0);
  const theta = 0.5 * Math.atan2(2 * b, a - d);
  return { mx, my, r1: Math.sqrt(l1), r2: Math.sqrt(l2), theta };
}

const nmdsDecor = {
  id: 'nmdsDecor',
  beforeDatasetsDraw(chart) {
    const { ctx, chartArea: area, scales: { x, y } } = chart;
    ctx.save();
    // axes through origin
    ctx.strokeStyle = '#3a3a3a'; ctx.lineWidth = 1.5;
    const x0 = x.getPixelForValue(0), y0 = y.getPixelForValue(0);
    ctx.beginPath();
    ctx.moveTo(x0, area.top); ctx.lineTo(x0, area.bottom);
    ctx.moveTo(area.left, y0); ctx.lineTo(area.right, y0);
    ctx.stroke();
    // scale bar d = 0.2
    const xr = x.max, xl = x.max - 0.2;
    const sy = area.top + 25;
    ctx.beginPath();
    ctx.moveTo(x.getPixelForValue(xl), sy); ctx.lineTo(x.getPixelForValue(xr), sy);
    ctx.stroke();
    ctx.fillStyle = '#111'; ctx.font = `17.5px ${FONT}`; ctx.textAlign = 'center'; ctx.textBaseline = 'middle';
    ctx.fillText('d = 0.2', (x.getPixelForValue(xl) + x.getPixelForValue(xr)) / 2 + 4, area.top + 12);
    // spiders and ellipses
    const k = 1.3;
    chart.data.datasets.forEach(ds => {
      const e = covEllipse(ds.data);
      const cx = x.getPixelForValue(e.mx), cy = y.getPixelForValue(e.my);
      ctx.strokeStyle = ds.backgroundColor; ctx.lineWidth = 1.2;
      ctx.beginPath();
      ds.data.forEach(p => { ctx.moveTo(cx, cy); ctx.lineTo(x.getPixelForValue(p.x), y.getPixelForValue(p.y)); });
      ctx.stroke();
      ctx.beginPath();
      for (let i = 0; i <= 120; i++) {
        const t = i / 120 * Math.PI * 2;
        const u = k * e.r1 * Math.cos(t), v = k * Math.max(e.r2, 0.006) * Math.sin(t);
        const px = e.mx + u * Math.cos(e.theta) - v * Math.sin(e.theta);
        const py = e.my + u * Math.sin(e.theta) + v * Math.cos(e.theta);
        const X = x.getPixelForValue(px), Y = y.getPixelForValue(py);
        if (i === 0) ctx.moveTo(X, Y); else ctx.lineTo(X, Y);
      }
      ctx.lineWidth = 1.3;
      ctx.stroke();
    });
    ctx.restore();
  },
  afterDatasetsDraw(chart) {
    const { ctx, scales: { x, y } } = chart;
    ctx.save();
    ctx.font = `18px ${FONT}`; ctx.textAlign = 'center'; ctx.textBaseline = 'middle';
    chart.data.datasets.forEach(ds => {
      const e = covEllipse(ds.data);
      const cx = x.getPixelForValue(e.mx), cy = y.getPixelForValue(e.my);
      const w = ctx.measureText(ds.label).width + 8, h = 22;
      ctx.fillStyle = '#fff'; ctx.fillRect(cx - w / 2, cy - h / 2, w, h);
      ctx.strokeStyle = ds.backgroundColor; ctx.lineWidth = 1.6;
      ctx.strokeRect(cx - w / 2, cy - h / 2, w, h);
      ctx.fillStyle = ds.backgroundColor;
      ctx.fillText(ds.label, cx, cy + 1);
    });
    ctx.restore();
  }
};

const nmdsData = [nmdsT1, nmdsT28, nmdsT29, nmdsT30, nmdsZIEL2, nmdsZymo];
new Chart(makeCanvas(66, 16, 725, 720), {
  type: 'scatter',
  data: {
    datasets: nmdsGroups.map((g, i) => ({
      label: g, data: nmdsData[i], backgroundColor: groupColors[g],
      pointRadius: 6, pointBorderWidth: 0, clip: false
    }))
  },
  options: {
    responsive: false,
    layout: { padding: 0 },
    scales: {
      x: { type: 'linear', display: false, min: -0.480, max: 0.661 },
      y: { type: 'linear', display: false, min: -0.624, max: 0.510 }
    }
  },
  plugins: [nmdsDecor]
});
panelLetter('A', 5, 8);
addEl(`left:64px;top:696px;width:300px;text-align:center;font:17.5px ${FONT};line-height:20px;color:#111`,
      'metaNMDS plot of Microbial Profiles');
addEl(`left:64px;top:716px;width:300px;text-align:center;font:17.5px ${FONT};line-height:20px;color:#111`,
      '(p\u2212value 0.001)');

// =============== Panel B ===============
function leafColor(name) {
  const g = name.split('\u2212')[1];
  return groupColors[g];
}
function layoutDendro(merges) {
  const nodes = [];
  const get = r => (r < 0 ? { h: 0, y: -r - 1 } : nodes[r - 1]);
  merges.forEach(([a, b, h]) => {
    const A = get(a), B = get(b);
    nodes.push({ h, y: (A.y + B.y) / 2, A, B });
  });
  return nodes;
}
const dendroLines = {
  id: 'dendroLines',
  beforeDatasetsDraw(chart) {
    const { ctx, scales: { x, y } } = chart;
    const nodes = layoutDendro(bMerges);
    ctx.save();
    ctx.strokeStyle = '#222'; ctx.lineWidth = 1.4; ctx.lineCap = 'square';
    ctx.beginPath();
    nodes.forEach(n => {
      const X = x.getPixelForValue(n.h);
      [n.A, n.B].forEach(c => {
        const Y = y.getPixelForValue(c.y);
        ctx.moveTo(x.getPixelForValue(c.h), Y); ctx.lineTo(X, Y);
      });
      ctx.moveTo(X, y.getPixelForValue(n.A.y)); ctx.lineTo(X, y.getPixelForValue(n.B.y));
    });
    ctx.stroke();
    ctx.restore();
  }
};
new Chart(makeCanvas(900, 0, 760, 740), {
  type: 'scatter',
  data: {
    datasets: [{
      data: bLeaves.map((n, i) => ({ x: 0, y: i })),
      pointRadius: 4.8, pointBorderWidth: 0,
      backgroundColor: bLeaves.map(leafColor), clip: false
    }]
  },
  options: {
    responsive: false,
    layout: { padding: { left: 33, top: 10, right: 0, bottom: 0 } },
    scales: {
      x: {
        type: 'linear', reverse: true, min: 0, max: 1.5, position: 'bottom',
        afterBuildTicks: s => { s.ticks = bAxisTicks.map(v => ({ value: v })); },
        afterFit: s => { s.height = 55; },
        grid: { drawOnChartArea: false, drawTicks: true, tickLength: 11, color: '#222', lineWidth: 1.4 },
        border: { display: true, color: '#222', width: 1.4 },
        ticks: { color: '#111', font: { size: 18 }, padding: 5, callback: v => String(v) }
      },
      y: {
        type: 'linear', reverse: true, min: -1.13, max: 37.04, position: 'right',
        afterBuildTicks: s => { s.ticks = bLeaves.map((n, i) => ({ value: i })); },
        afterFit: s => { s.width = 293; },
        grid: { display: false, drawTicks: false },
        border: { display: false },
        ticks: {
          autoSkip: false, padding: 13,
          font: { size: 21, style: 'italic' },
          color: c => leafColor(bLeaves[c.tick.value]),
          callback: v => bLeaves[v]
        }
      }
    }
  },
  plugins: [dendroLines]
});
panelLetter('B', 853, 0);

// =============== helpers for stacked bars ===============
function bracketsFor(chart, groups, firstBar, lineTop, tick, textCenterY, fontSize) {
  const meta = chart.getDatasetMeta(0).data;
  const canvasBox = chart.canvas.getBoundingClientRect();
  const pageBox = page.getBoundingClientRect();
  const offX = canvasBox.left - pageBox.left;
  groups.forEach((g, gi) => {
    const a = meta[firstBar + gi * g.n], b = meta[firstBar + gi * g.n + g.n - 1];
    const left = offX + a.x - a.width / 2, right = offX + b.x + b.width / 2;
    addEl(`left:${left}px;top:${lineTop}px;width:${right - left}px;height:${tick}px;box-sizing:border-box;` +
          `border:3px solid #000;border-bottom:none`);
    addEl(`left:${left}px;top:${textCenterY - fontSize / 2 - 1}px;width:${right - left}px;text-align:center;` +
          `font:bold ${fontSize}px ${FONT};line-height:${fontSize + 2}px;color:#000`, g.label);
  });
}
function stackedOptions(yWidth, xHeight, padTop, padRight, tickSize, xTickSize) {
  return {
    responsive: false,
    layout: { padding: { top: padTop, right: padRight, left: 0, bottom: 0 } },
    datasets: { bar: { categoryPercentage: 0.91, barPercentage: 1.0, borderWidth: 0 } },
    scales: {
      x: {
        stacked: true,
        afterFit: s => { s.height = xHeight; },
        grid: { display: false },
        border: { display: true, color: '#D9D9D9', width: 3 },
        ticks: { autoSkip: false, minRotation: 45, maxRotation: 45, padding: 6,
                 color: TICK_GREY, font: { size: xTickSize } }
      },
      y: {
        stacked: true, min: 0, max: 100,
        afterFit: s => { s.width = yWidth; },
        grid: { color: '#DADADA', lineWidth: 2, drawTicks: false },
        border: { display: false },
        ticks: { stepSize: 10, autoSkip: false, padding: 20, color: TICK_GREY, font: { size: tickSize } }
      }
    }
  };
}

// =============== Panel C ===============
const cChart = new Chart(makeCanvas(0, 850, 1660, 564), {
  type: 'bar',
  data: {
    labels: cLabels,
    datasets: cTaxa.map((name, i) => ({
      label: name,
      data: cBars.map(bar => { const hit = bar.find(s => s[0] === name); return hit ? hit[1] : 0; }),
      backgroundColor: palette[i % palette.length]
    }))
  },
  options: stackedOptions(118, 90, 12, 26, 25, 25)
});
panelLetter('C', 5, 750);
bracketsFor(cChart, cRegions.map(r => ({ label: r, n: 8 })), 0, 814, 16, 785, 25);

// HTML legend for C (row-major, 5 columns)
const cLegendCols = [59, 379, 698, 1015, 1334];
cTaxa.forEach((name, i) => {
  const col = i % 5, row = Math.floor(i / 5);
  const top = 1445 + row * 19.42 - 10;
  const d = addEl(`left:${cLegendCols[col]}px;top:${top}px;font:italic 19px ${FONT};line-height:20px;color:${TICK_GREY};white-space:nowrap`);
  d.innerHTML = `<i style="display:inline-block;width:10px;height:10px;margin-right:4px;vertical-align:-1px;background:${palette[i % palette.length]}"></i>`;
  d.appendChild(document.createTextNode(name));
});

// =============== Panel D ===============
const dChart = new Chart(makeCanvas(0, 1995, 530, 457), {
  type: 'bar',
  data: {
    labels: dLabels,
    datasets: dTaxa.map((name, i) => ({ label: name, data: dSeries[i], backgroundColor: dColors[i] }))
  },
  options: stackedOptions(74, 110, 14, 16, 24, 24)
});
panelLetter('D', 5, 1920);
bracketsFor(dChart, cRegions.map(r => ({ label: r, n: 2 })), 1, 1970, 28, 1957, 25);
dTaxa.slice().reverse().forEach((name, k) => {
  const i = dTaxa.length - 1 - k;
  const d = addEl(`left:530px;top:${2058 + k * 30.1 - 11}px;font:italic 20px ${FONT};line-height:22px;color:${TICK_GREY};white-space:nowrap`);
  d.innerHTML = `<i style="display:inline-block;width:12px;height:12px;margin-right:4px;vertical-align:-1px;background:${dColors[i]}"></i>`;
  d.appendChild(document.createTextNode(name));
});

// =============== Panel E ===============
const eChart = new Chart(makeCanvas(860, 1995, 540, 459), {
  type: 'bar',
  data: {
    labels: eLabels,
    datasets: eTaxa.map((name, i) => ({ label: name, data: eSeries[i], backgroundColor: palette[i] }))
  },
  options: stackedOptions(81, 110, 14, 16, 24, 24)
});
panelLetter('E', 877, 1920);
bracketsFor(eChart, cRegions.map(r => ({ label: r, n: 2 })), 1, 1970, 28, 1957, 25);
eTaxa.slice().reverse().forEach((name, k) => {
  const i = eTaxa.length - 1 - k;
  const d = addEl(`left:1408px;top:${1985 + k * 19.24 - 10}px;font:italic 19px ${FONT};line-height:20px;color:${TICK_GREY};white-space:nowrap`);
  d.innerHTML = `<i style="display:inline-block;width:11px;height:11px;margin-right:3px;vertical-align:-1px;background:${palette[i]}"></i>`;
  d.appendChild(document.createTextNode(name));
});
</script>
</body>
</html>
